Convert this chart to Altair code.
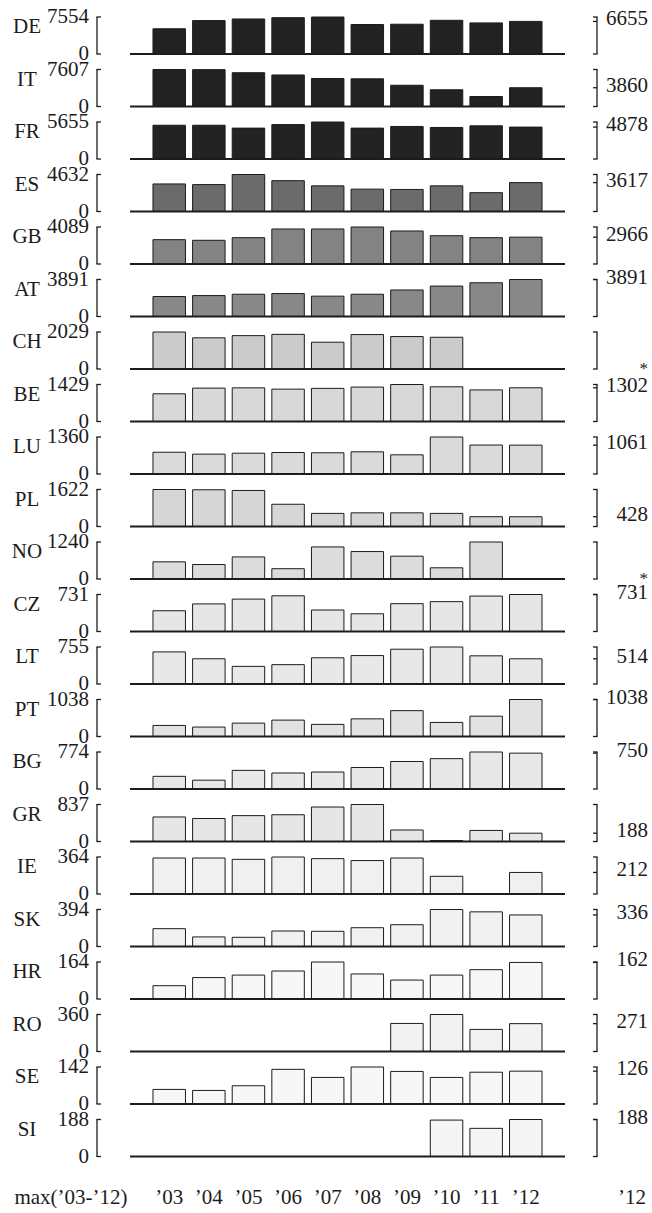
import altair as alt
import pandas as pd

years = ["’03", "’04", "’05", "’06", "’07", "’08", "’09", "’10", "’11", "’12"]
countries = ["DE", "IT", "FR", "ES", "GB", "AT", "CH", "BE", "LU", "PL", "NO",
             "CZ", "LT", "PT", "BG", "GR", "IE", "SK", "HR", "RO", "SE", "SI"]

de = [5150, 6820, 7150, 7420, 7554, 6020, 6080, 6880, 6350, 6655]
it = [7607, 7580, 6950, 6480, 5750, 5690, 4370, 3440, 2050, 3860]
fr = [5160, 5160, 4720, 5260, 5655, 4720, 4970, 4820, 5070, 4878]
es = [3450, 3370, 4632, 3860, 3210, 2800, 2760, 3210, 2360, 3617]
gb = [2690, 2620, 2910, 3870, 3870, 4089, 3650, 3130, 2910, 2966]
at = [2100, 2200, 2340, 2410, 2140, 2340, 2790, 3200, 3550, 3891]
ch = [2029, 1710, 1830, 1900, 1470, 1890, 1780, 1740, None, None]
be = [1070, 1290, 1300, 1250, 1280, 1330, 1429, 1340, 1220, 1302]
lu = [800, 730, 765, 790, 780, 815, 705, 1360, 1065, 1061]
pl = [1622, 1610, 1580, 975, 575, 600, 600, 575, 430, 428]
no = [575, 485, 740, 345, 1075, 920, 765, 375, 1240, None]
cz = [410, 545, 640, 705, 425, 350, 550, 590, 700, 731]
lt = [655, 515, 360, 395, 535, 580, 710, 755, 575, 514]
pt = [310, 265, 375, 460, 340, 495, 725, 395, 570, 1038]
bg = [265, 185, 390, 335, 355, 450, 575, 635, 774, 750]
gr = [555, 520, 585, 605, 780, 837, 260, 22, 250, 188]
ie = [354, 354, 341, 364, 348, 329, 354, 174, None, 212]
sk = [190, 102, 98, 165, 162, 200, 232, 394, 369, 336]
hr = [59, 95, 106, 124, 164, 111, 84, 106, 130, 162]
ro = [None, None, None, None, None, None, 273, 360, 215, 271]
se = [56, 52, 70, 133, 102, 142, 125, 102, 122, 126]
si = [None, None, None, None, None, None, None, 185, 143, 188]

series = {"DE": de, "IT": it, "FR": fr, "ES": es, "GB": gb, "AT": at, "CH": ch,
          "BE": be, "LU": lu, "PL": pl, "NO": no, "CZ": cz, "LT": lt, "PT": pt,
          "BG": bg, "GR": gr, "IE": ie, "SK": sk, "HR": hr, "RO": ro, "SE": se,
          "SI": si}

# style: fill shade per country
fills = {"DE": "#222222", "IT": "#222222", "FR": "#232323", "ES": "#6b6b6b",
         "GB": "#838383", "AT": "#888888", "CH": "#cbcbcb", "BE": "#d8d8d8",
         "LU": "#dadada", "PL": "#d6d6d6", "NO": "#dcdcdc", "CZ": "#e6e6e6",
         "LT": "#e8e8e8", "PT": "#e2e2e2", "BG": "#e8e8e8", "GR": "#e6e6e6",
         "IE": "#f0f0f0", "SK": "#f1f1f1", "HR": "#f7f7f7", "RO": "#f2f2f2",
         "SE": "#f7f7f7", "SI": "#f5f5f5"}

rows = [{"country": c, "year": y, "value": v}
        for c in countries for y, v in zip(years, series[c]) if v is not None]
df = pd.DataFrame(rows)
years_df = pd.DataFrame({"year": years})

W = 435
H = 37
INK = "#1c1c1c"


def panel(idx, c):
    vals = [v for v in series[c] if v is not None]
    m = max(vals)
    yscale = alt.Scale(domain=[0, m], nice=False, zero=True)
    xscale = alt.Scale(domain=years, paddingInner=0.18, paddingOuter=0.58)

    def Y(f):
        return alt.Y(f, scale=yscale, axis=None)

    base = alt.Chart(df).transform_filter(alt.datum.country == c)
    summ = base.transform_aggregate(
        vmax="max(value)", groupby=["country"]
    ).transform_calculate(zero="0")

    layers = []
    layers.append(
        base.mark_bar(fill=fills[c], stroke=INK, strokeWidth=1).encode(
            x=alt.X("year:N", scale=xscale, axis=None), y=Y("value:Q")
        )
    )
    layers.append(
        summ.mark_rule(color=INK, strokeWidth=1.8).encode(
            x=alt.value(0), x2=alt.value(W), y=Y("zero:Q")
        )
    )
    # left bracket
    layers.append(summ.mark_rule(color=INK, strokeWidth=1.3).encode(
        x=alt.value(-33), y=Y("vmax:Q"), y2="zero:Q"))
    layers.append(summ.mark_rule(color=INK, strokeWidth=1.3).encode(
        x=alt.value(-33.6), x2=alt.value(-29), y=Y("vmax:Q")))
    layers.append(summ.mark_rule(color=INK, strokeWidth=1.3).encode(
        x=alt.value(-33.6), x2=alt.value(-29), y=Y("zero:Q")))
    # right bracket
    layers.append(summ.mark_rule(color=INK, strokeWidth=1.3).encode(
        x=alt.value(W + 32), y=Y("vmax:Q"), y2="zero:Q"))
    layers.append(summ.mark_rule(color=INK, strokeWidth=1.3).encode(
        x=alt.value(W + 28), x2=alt.value(W + 32.6), y=Y("vmax:Q")))
    layers.append(summ.mark_rule(color=INK, strokeWidth=1.3).encode(
        x=alt.value(W + 28), x2=alt.value(W + 32.6), y=Y("zero:Q")))
    # left labels
    layers.append(summ.mark_text(align="right", baseline="middle", dy=0).encode(
        x=alt.value(-41), y=Y("vmax:Q"), text=alt.Text("vmax:Q", format="d")))
    layers.append(summ.mark_text(align="right", baseline="middle", dy=0, text="0").encode(
        x=alt.value(-41), y=Y("zero:Q")))
    layers.append(summ.mark_text(align="center", baseline="middle").encode(
        x=alt.value(-103), y=alt.value(10), text="country:N"))
    # right value of last year
    if series[c][-1] is not None:
        last = base.transform_filter(alt.datum.year == years[-1])
        layers.append(last.mark_rule(color=INK, strokeWidth=1.3).encode(
            x=alt.value(W + 28), x2=alt.value(W + 32), y=Y("value:Q")))
        layers.append(last.mark_text(align="right", baseline="middle", dy=-2).encode(
            x=alt.value(W + 83), y=Y("value:Q"),
            text=alt.Text("value:Q", format="d")))
    else:
        layers.append(summ.mark_text(align="right", baseline="middle", text="*",
                                     fontSize=17).encode(
            x=alt.value(W + 83), y=Y("zero:Q")))

    if idx == 0:
        layers.append(summ.mark_rule(color="white", strokeWidth=1).encode(
            x=alt.value(-129.5), x2=alt.value(-128.5),
            y=alt.value(-16.5), y2=alt.value(-15.5)))

    if idx == len(countries) - 1:
        yr = alt.Chart(years_df)
        layers.append(yr.mark_text(baseline="middle").encode(
            x=alt.X("year:N", scale=xscale, axis=None),
            y=alt.value(H + 41), text="year:N"))
        one = yr.transform_filter(alt.datum.year == years[-1])
        layers.append(one.mark_text(baseline="middle", align="center",
                                    text=f"max({years[0]}-{years[-1]})").encode(
            x=alt.value(-59), y=alt.value(H + 41)))
        layers.append(one.mark_text(baseline="middle", align="right").encode(
            x=alt.value(W + 81), y=alt.value(H + 41), text="year:N"))

    return alt.layer(*layers).properties(width=W, height=H)


panels = [panel(i, c) for i, c in enumerate(countries)]

chart = (
    alt.vconcat(*panels, spacing=15.5, bounds="flush")
    .resolve_scale(x="independent", y="independent")
    .properties(padding=0)
    .configure_view(strokeWidth=0)
    .configure_text(font="Liberation Serif", fontSize=21, color=INK)
)

chart.save("out.html", embed_options={"renderer": "svg", "actions": False})
